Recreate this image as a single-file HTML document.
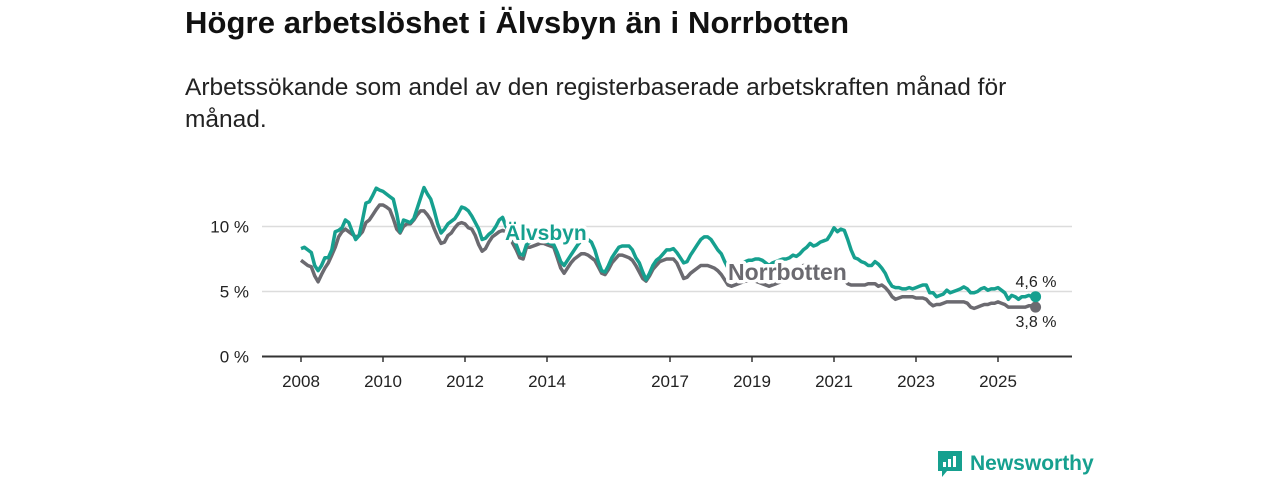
<!DOCTYPE html>
<html><head><meta charset="utf-8"><style>
body{margin:0;background:#fff;font-family:"Liberation Sans",sans-serif;}
#wrap{position:relative;width:1280px;height:480px;overflow:hidden;}
h1{position:absolute;left:185px;top:5px;margin:0;font-size:31px;font-weight:bold;color:#111;letter-spacing:0.1px;}
p.sub{position:absolute;left:185px;top:72px;margin:0;font-size:24.5px;line-height:32px;color:#222;width:870px;}
</style></head><body>
<div id="wrap">
<h1>Högre arbetslöshet i Älvsbyn än i Norrbotten</h1>
<p class="sub">Arbetssökande som andel av den registerbaserade arbetskraften månad för månad.</p>
<svg id="chart" width="1280" height="480" style="position:absolute;left:0;top:0"></svg>
</div>
<script>
const years = [2008,2010,2012,2014,2017,2019,2021,2023,2025];
const yTicks = [0,5,10];
const yTickLabels = ["0 %","5 %","10 %"];
const alvsbyn = [
8.3,8.4,8.2,8.0,7.0,6.6,7.0,7.6,7.6,8.2,9.6,9.7,
9.9,10.5,10.3,9.6,9.0,9.3,10.5,11.8,11.9,12.4,12.95,12.8,
12.7,12.5,12.3,12.1,11.0,9.6,10.5,10.4,10.3,10.6,11.4,12.2,
13.0,12.5,12.1,11.2,10.2,9.5,9.8,10.2,10.4,10.6,11.0,11.5,
11.4,11.2,10.8,10.3,9.8,9.0,9.1,9.4,9.6,10.0,10.5,10.7,
10.0,9.6,9.2,8.6,7.9,7.8,8.6,8.8,8.9,9.0,9.0,8.9,
8.8,8.7,8.6,8.0,7.3,7.0,7.4,7.8,8.2,8.6,8.9,9.0,
9.0,8.8,8.2,7.3,6.6,6.5,7.0,7.6,8.0,8.4,8.5,8.5,
8.5,8.2,7.6,7.2,6.5,5.9,6.4,7.0,7.4,7.6,7.9,8.2,
8.2,8.3,8.0,7.6,7.2,7.3,7.8,8.2,8.6,9.0,9.2,9.2,
9.0,8.6,8.2,7.9,7.3,6.8,6.5,6.8,7.0,7.2,7.3,7.4,
7.4,7.5,7.5,7.4,7.2,7.0,7.2,7.3,7.4,7.5,7.5,7.6,
7.8,7.7,7.9,8.2,8.4,8.7,8.5,8.6,8.8,8.9,9.0,9.4,
9.9,9.6,9.8,9.7,9.0,8.2,7.6,7.5,7.3,7.2,7.0,7.0,
7.3,7.1,6.8,6.4,5.8,5.4,5.3,5.3,5.2,5.2,5.3,5.2,
5.3,5.4,5.5,5.5,4.9,4.9,4.6,4.7,4.8,5.1,4.9,5.0,
5.1,5.2,5.35,5.2,4.9,4.9,5.0,5.2,5.3,5.1,5.2,5.2,
5.3,5.1,4.9,4.4,4.7,4.6,4.4,4.6,4.6,4.7,4.6,4.6];
const norrbotten = [
7.4,7.2,7.0,6.9,6.2,5.75,6.3,6.8,7.2,7.8,8.4,9.2,
9.6,9.8,9.6,9.4,9.2,9.3,9.6,10.3,10.5,10.9,11.3,11.65,
11.65,11.5,11.3,10.6,9.8,9.5,10.0,10.2,10.2,10.5,10.9,11.2,
11.2,10.9,10.5,9.8,9.2,8.7,8.8,9.3,9.5,9.9,10.2,10.3,
10.2,9.9,9.8,9.3,8.6,8.1,8.3,8.8,9.2,9.4,9.6,9.7,
9.6,9.2,8.7,8.2,7.6,7.5,8.4,8.4,8.5,8.6,8.7,8.7,
8.6,8.5,8.4,7.6,6.8,6.4,6.8,7.2,7.5,7.7,7.9,7.9,
7.8,7.6,7.4,6.9,6.4,6.3,6.7,7.2,7.5,7.8,7.8,7.7,
7.6,7.4,7.0,6.5,6.0,5.8,6.2,6.7,7.0,7.3,7.4,7.5,
7.5,7.5,7.2,6.6,6.0,6.1,6.4,6.6,6.8,7.0,7.0,7.0,
6.9,6.8,6.6,6.3,5.9,5.5,5.4,5.5,5.6,5.7,5.8,5.8,
5.8,5.8,5.7,5.6,5.5,5.4,5.5,5.6,5.7,5.8,5.9,6.0,
6.2,6.4,6.7,7.0,7.0,6.9,6.8,6.6,6.5,6.4,6.3,6.3,
6.3,6.2,6.1,5.9,5.6,5.5,5.5,5.5,5.5,5.5,5.6,5.6,
5.6,5.4,5.5,5.3,5.0,4.6,4.4,4.5,4.6,4.6,4.6,4.6,
4.5,4.5,4.5,4.4,4.1,3.9,4.0,4.0,4.1,4.2,4.2,4.2,
4.2,4.2,4.2,4.1,3.8,3.7,3.8,3.9,4.0,4.0,4.1,4.1,
4.2,4.1,4.0,3.8,3.8,3.8,3.8,3.8,3.8,3.9,3.9,3.8];
const startYear = 2008;
const TEAL="#16a08f", GRAY="#6b6a70";
const svg=document.getElementById('chart');
const NS="http://www.w3.org/2000/svg";
function xs(t){return 301+(t-startYear)*41;}
function ys(v){return 356.5-v*13;}
function mk(tag,attrs,parent){const e=document.createElementNS(NS,tag);for(const k in attrs)e.setAttribute(k,attrs[k]);(parent||svg).appendChild(e);return e;}
yTicks.forEach((v,i)=>{
  if(v>0){const g=mk('line',{x1:262,x2:1072,y1:ys(v),y2:ys(v),stroke:'#dcdcdc','stroke-width':1.5});
  
  }
  const t=mk('text',{x:249,y:ys(v)+6,'text-anchor':'end','font-size':17,fill:'#222','font-family':'Liberation Sans, sans-serif'});
  t.textContent=yTickLabels[i];
  
  
});
const ax=mk('line',{x1:262,x2:1072,y1:356.5,y2:356.5,stroke:'#333','stroke-width':2});


years.forEach(y=>{
  const tk=mk('line',{x1:xs(y),x2:xs(y),y1:356,y2:362,stroke:'#333','stroke-width':1.5});
  
  
  const t=mk('text',{x:xs(y),y:387,'text-anchor':'middle','font-size':17,fill:'#222','font-family':'Liberation Sans, sans-serif'});
  t.textContent=y;
  
  
});
function line(data,color,name){
  const pts=data.map((v,i)=>xs(startYear+i/12).toFixed(1)+','+ys(v).toFixed(1)).join(' ');
  const p=mk('polyline',{points:pts,fill:'none',stroke:color,'stroke-width':3.5,'stroke-linejoin':'round'});
  
  
  const n=data.length-1;
  const c=mk('circle',{cx:xs(startYear+n/12),cy:ys(data[n]),r:5.5,fill:color});
  
  
}
line(norrbotten,GRAY,'norrbotten-line');
line(alvsbyn,TEAL,'alvsbyn-line');
function label(txt,x,y,color,size,bold,name,anchor){
  const t=mk('text',{x:x,y:y,'font-size':size,'font-weight':bold?'bold':'normal',fill:color,stroke:'#fff','stroke-width':bold?7:4,'paint-order':'stroke','stroke-linejoin':'round','text-anchor':anchor||'start','font-family':'Liberation Sans, sans-serif'});
  t.textContent=txt;
  
  
}
label('Älvsbyn',505,240,TEAL,21,true,'alvsbyn-label');
label('Norrbotten',728,280,GRAY,23,true,'norrbotten-label');
label('4,6 %',1036,287,'#222',16,false,'alvsbyn-end-value','middle');
label('3,8 %',1036,327,'#222',16,false,'norrbotten-end-value','middle');
const lg=mk('g',{});


mk('path',{d:'M938 451 h24 v20 h-15 l-5 6 v-6 h-4 z',fill:TEAL},lg);
mk('rect',{x:943,y:462,width:3,height:5,fill:'#fff'},lg);
mk('rect',{x:948,y:459,width:3,height:8,fill:'#fff'},lg);
mk('rect',{x:953,y:456,width:3,height:11,fill:'#fff'},lg);
const lt=mk('text',{x:970,y:470,'font-size':21,'font-weight':'bold',fill:TEAL,'font-family':'Liberation Sans, sans-serif'},lg);
lt.textContent='Newsworthy';
</script>
</body></html>
